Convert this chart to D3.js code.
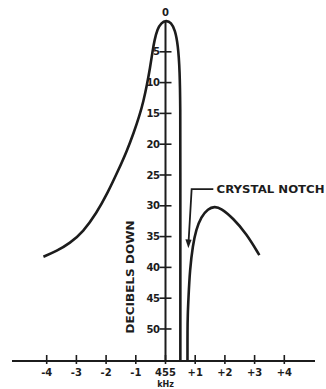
<!DOCTYPE html>
<html><head><meta charset="utf-8">
<script src="https://cdn.jsdelivr.net/npm/d3@7"></script>
<style>
html,body{margin:0;padding:0;background:#fff;}
svg{display:block;}
text{font-family:"DejaVu Sans",sans-serif;font-weight:bold;fill:#1c1c1c;}
</style></head>
<body><svg id="c" width="326" height="389"></svg>
<script>
// kHz offset from 455 kHz, dB down
const xTicks = [-4,-3,-2,-1,0,1,2,3,4];
const xTickLabels = ["-4","-3","-2","-1","455","+1","+2","+3","+4"];
const yTicks = [5,10,15,20,25,30,35,40,45,50];
const mainKHz = [-4.11,-3.66,-3.22,-2.77,-2.32,-1.95,-1.60,-1.30,-1.06,-0.88,-0.74,-0.62,-0.52,-0.44,-0.37,-0.27,-0.15,0.02,0.19,0.32,0.42,0.48,0.50,0.50,0.50];
const mainDB  = [38.27,37.34,36.09,34.21,31.17,27.93,24.35,21.11,18.02,15.43,12.99,10.23,7.63,5.03,3.08,1.30,0.32,-0.1,0.24,1.46,3.9,7.96,14.45,21.0,55.2];
const notchKHz = [0.74,0.74,0.75,0.77,0.82,0.92,1.03,1.20,1.43,1.65,1.87,2.27,2.72,3.16];
const notchDB  = [55.2,50.2,47.5,45.3,40.4,36.4,33.9,31.8,30.5,30.1,30.4,32.0,34.5,38.0];
const annotationText = "CRYSTAL NOTCH";
const annotationPath = [[1.61,27.3],[0.88,27.3],[0.78,35.6]];
const arrowTip = [0.77,36.9];

const svg = d3.select("#c");
const x = d3.scaleLinear().domain([-4,4]).range([46.7,284.3]);
const y = d3.scaleLinear().domain([0,55.2]).range([21,361]);
const ink = "#1c1c1c";

// x axis line
svg.append("line").attr("x1",12).attr("x2",315).attr("y1",y(55.2)).attr("y2",y(55.2))
  .attr("stroke",ink).attr("stroke-width",2);
// y axis line
svg.append("line").attr("x1",x(0)).attr("x2",x(0)).attr("y1",y(0)).attr("y2",y(55.2))
  .attr("stroke",ink).attr("stroke-width",2);

// x ticks
const xg = svg.append("g");
xTicks.forEach((t,i)=>{
  xg.append("line").attr("x1",x(t)).attr("x2",x(t)).attr("y1",y(55.2)-6).attr("y2",y(55.2)+3)
    .attr("stroke",ink).attr("stroke-width",1.6);
  xg.append("text").attr("x",x(t)).attr("y",376).attr("text-anchor","middle")
    .attr("font-size",10).text(xTickLabels[i]);
});
svg.append("text").attr("x",x(0)).attr("y",387).attr("text-anchor","middle")
  .attr("font-size",8).text("kHz");

// y ticks
const yg = svg.append("g");
yTicks.forEach(t=>{
  yg.append("line").attr("x1",x(0)-6).attr("x2",x(0)+6).attr("y1",y(t)).attr("y2",y(t))
    .attr("stroke",ink).attr("stroke-width",1.6);
  yg.append("text").attr("x",x(0)-6).attr("y",y(t)+3.6).attr("text-anchor","end")
    .attr("font-size",10).attr("letter-spacing",-0.5).text(t);
});
svg.append("text").attr("x",x(0)).attr("y",y(0)-5).attr("text-anchor","middle")
  .attr("font-size",10).text("0");

// y axis title
svg.append("text").attr("transform",`translate(134,277) rotate(-90)`)
  .attr("text-anchor","middle").attr("font-size",11).attr("textLength",113)
  .attr("lengthAdjust","spacingAndGlyphs").text("DECIBELS DOWN");

// curves
const line = d3.line().x(d=>x(d[0])).y(d=>y(d[1])).curve(d3.curveBasis);
svg.append("path").datum(mainKHz.map((k,i)=>[k,mainDB[i]]))
  .attr("d",line).attr("fill","none").attr("stroke",ink).attr("stroke-width",2.6)
  .attr("stroke-linejoin","round");
svg.append("path").datum(notchKHz.map((k,i)=>[k,notchDB[i]]))
  .attr("d",line).attr("fill","none").attr("stroke",ink).attr("stroke-width",2.6)
  .attr("stroke-linejoin","round");

// annotation
svg.append("path").attr("d",d3.line().x(d=>x(d[0])).y(d=>y(d[1]))(annotationPath))
  .attr("fill","none").attr("stroke",ink).attr("stroke-width",1.8);
const tx = x(arrowTip[0]), ty = y(arrowTip[1]);
svg.append("path").attr("d",`M${tx},${ty} L${tx-3},${ty-9} L${tx+3.2},${ty-8.5} Z`).attr("fill",ink);
svg.append("text").attr("x",x(1.72)).attr("y",y(27.3)+4).attr("font-size",10)
  .attr("textLength",108).attr("lengthAdjust","spacingAndGlyphs").text(annotationText);
</script></body></html>
